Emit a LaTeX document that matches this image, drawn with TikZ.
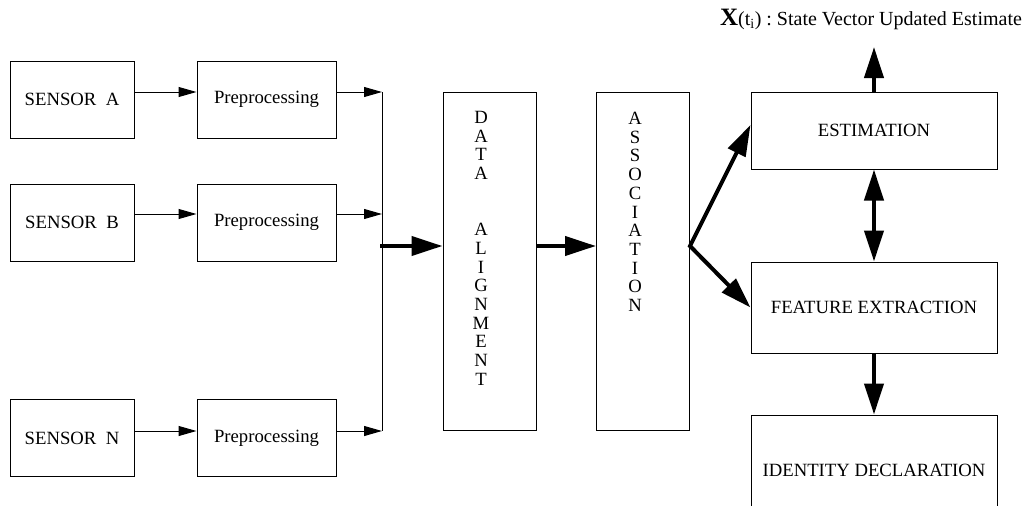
\documentclass[tikz,border=0pt]{standalone}
\usepackage{fontspec}
\setmainfont{Liberation Serif}
\usetikzlibrary{arrows.meta}

\begin{document}
\begin{tikzpicture}[x=1pt,y=-1pt,>={Triangle[length=18pt,width=10pt]},
	Big/.tip={Triangle[length=31pt,width=19pt]},
	thin line/.style={line width=1pt},
	thick line/.style={line width=4pt},
	box/.style={draw,line width=1pt,inner sep=0pt,font=\fontsize{18.7}{18.7}\selectfont},
	small box/.style={box,minimum height=77pt},
	tall box/.style={box,minimum width=93pt,minimum height=338pt},
	wide box/.style={box,minimum width=246pt},
	letters/.style={align=center,inner sep=0pt,anchor=north,font=\fontsize{18.7}{18.7}\selectfont}]
	\useasboundingbox (0,0) rectangle (1034,506);
	% Nodes
	  % Sensors
	  \node (sensA) at (72,99.5) [small box,minimum width=124pt] {SENSOR\ \ A};
	  \node (sensB) at (72,222.5) [small box,minimum width=124pt] {SENSOR\ \ B};
	  \node (sensN) at (72,438) [small box,minimum width=124pt] {SENSOR\ \ N};
	  
	  \node (preA) at (266.5,99.5) [small box,minimum width=139pt] {Preprocessing};
	  \node (preB) at (266.5,222.5) [small box,minimum width=139pt] {Preprocessing};
	  \node (preN) at (266.5,438) [small box,minimum width=139pt] {Preprocessing};
	  
	  % Middle
	  \node (data) at (489.5,261) [tall box] {};
	  \node (dataTxt) at (481,111) [letters] {D\\A\\T\\A\\[37.4pt]A\\L\\I\\G\\N\\M\\E\\N\\T};
	  \node (assoc) at (643,261) [tall box] {};
	  \node (assocTxt) at (635,112) [letters] {A\\S\\S\\O\\C\\I\\A\\T\\I\\O\\N};
	  
	  % Right column
	  \node (est) at (874,130.5) [wide box,minimum height=77pt] {ESTIMATION};
	  \node (feat) at (874,307.5) [wide box,minimum height=91pt] {FEATURE EXTRACTION};
	  \node (ident) at (874,470) [wide box,minimum height=110pt] {IDENTITY DECLARATION};
	  \node (title) at (871,19) [font=\fontsize{20}{20}\selectfont] {{\fontsize{25}{25}\selectfont\textbf{X}}(t\textsubscript{i})\ :\ State Vector Updated Estimate};
	  
	  \coordinate (busA) at (382,92);
	  \coordinate (busB) at (382,214);
	  \coordinate (busN) at (382,431);
	  \coordinate (busM) at (382,246);
	  \coordinate (out) at (874,47);
	
	% Edges
	  \draw[thin line,->] (sensA.east |- busA) -- (preA.west |- busA);
	  \draw[thin line,->] (sensB.east |- busB) -- (preB.west |- busB);
	  \draw[thin line,->] (sensN.east |- busN) -- (preN.west |- busN);
	  
	  \draw[thin line,->] (preA.east |- busA) -- (busA);
	  \draw[thin line,->] (preB.east |- busB) -- (busB);
	  \draw[thin line,->] (preN.east |- busN) -- (busN);
	  \draw[thin line] (busA) -- (busN);
	  
	  \draw[thick line,-Big] ([xshift=-2pt]busM) -- (data.west |- busM);
	  \draw[thick line,-Big] (data.east |- busM) -- (assoc.west |- busM);
	  \draw[thick line,Big-Big] ([yshift=5.5pt]est.west) -- (assoc.east |- busM) -- (feat.west);
	  
	  \draw[thick line,-Big] (est.north) -- (out);
	  \draw[thick line,Big-Big] (est.south) -- (feat.north);
	  \draw[thick line,-Big] (feat.south) -- (ident.north);
	  
\end{tikzpicture}
\end{document}
